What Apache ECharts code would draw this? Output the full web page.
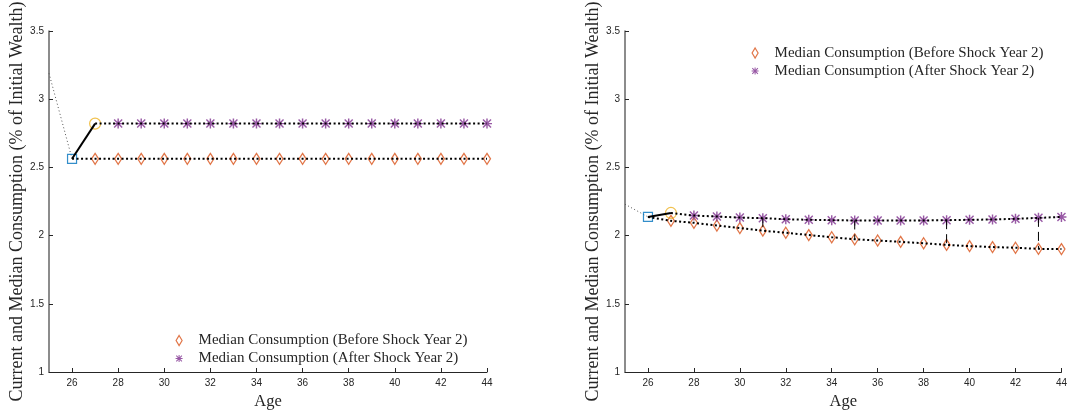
<!DOCTYPE html>
<html>
<head>
<meta charset="utf-8">
<script src="https://cdn.jsdelivr.net/npm/echarts@6.0.0/dist/echarts.min.js"></script>
<style>
  html, body { margin: 0; padding: 0; background: #fff; }
  #chart { width: 1070px; height: 415px; }
</style>
</head>
<body>
<div id="chart"></div>
<script>
// Ages on the horizontal axis
const currentAges = [25, 26, 27];
const medianAges = [27, 28, 29, 30, 31, 32, 33, 34, 35, 36, 37, 38, 39, 40, 41, 42, 43, 44];
const afterAges = [28, 29, 30, 31, 32, 33, 34, 35, 36, 37, 38, 39, 40, 41, 42, 43, 44];
const xTicks = [26, 28, 30, 32, 34, 36, 38, 40, 42, 44];

// Left panel: current consumption path and medians before / after the year-2 shock
const leftCurrent = [3.19, 2.563, 2.821];
const leftBefore = [2.563, 2.563, 2.563, 2.563, 2.563, 2.563, 2.563, 2.563, 2.563,
                    2.563, 2.563, 2.563, 2.563, 2.563, 2.563, 2.563, 2.563, 2.563];
const leftAfter = [2.821, 2.821, 2.821, 2.821, 2.821, 2.821, 2.821, 2.821, 2.821,
                   2.821, 2.821, 2.821, 2.821, 2.821, 2.821, 2.821, 2.821];
const leftGapAges = [];

// Right panel
const rightCurrent = [2.23, 2.137, 2.166];
const rightBefore = [2.108, 2.094, 2.074, 2.055, 2.036, 2.021, 2.004, 1.988, 1.973,
                     1.964, 1.954, 1.944, 1.932, 1.923, 1.916, 1.911, 1.903, 1.901];
const rightAfter = [2.147, 2.140, 2.132, 2.128, 2.120, 2.116, 2.113, 2.111, 2.111,
                    2.111, 2.111, 2.113, 2.116, 2.118, 2.123, 2.130, 2.137];
const rightGapAges = [31, 35, 39, 43];

const BEFORE = 'Median Consumption (Before Shock Year 2)';
const AFTER = 'Median Consumption (After Shock Year 2)';

const ORANGE = '#D95319';
const PURPLE = '#7E2F8E';
const BLUE = '#0072BD';
const YELLOW = '#EDB120';

// asterisk marker: four bars through the centre
const STAR = 'path://M8.7 1H11.3V19H8.7Z M1 8.7H19V11.3H1Z M1.9 3.7L3.7 1.9L18.1 16.3L16.3 18.1Z M16.3 1.9L18.1 3.7L3.7 18.1L1.9 16.3Z';
const DIAMOND = 'path://M3 0L6 5L3 10L0 5Z';

const dotted = { color: '#000', width: 2, type: [2, 2.5], cap: 'butt' };

function panelSeries(g, current, before, after, gapAges) {
  const ax = { xAxisIndex: g, yAxisIndex: g, silent: true, animation: false };
  const beforePts = medianAges.map((a, i) => [a, before[i]]);
  const afterPts = afterAges.map((a, i) => [a, after[i]]);
  const list = [
    // faint lead-in of current consumption
    Object.assign({ type: 'line', symbol: 'none', z: 2,
      data: [[currentAges[0], current[0]], [currentAges[1], current[1]]],
      lineStyle: { color: '#555', width: 1, type: [1, 2.5] } }, ax),
    // current consumption step
    Object.assign({ type: 'line', symbol: 'none', z: 4,
      data: [[currentAges[1], current[1]], [currentAges[2], current[2]]],
      lineStyle: { color: '#000', width: 2 } }, ax),
    // median paths
    Object.assign({ type: 'line', symbol: 'none', z: 4,
      data: [[currentAges[1], current[1]]].concat(beforePts), lineStyle: dotted }, ax),
    Object.assign({ type: 'line', symbol: 'none', z: 4,
      data: [[currentAges[2], current[2]]].concat(afterPts), lineStyle: dotted }, ax)
  ];
  gapAges.forEach(a => {
    list.push(Object.assign({ type: 'line', symbol: 'none', z: 4,
      data: [[a, after[afterAges.indexOf(a)]], [a, before[medianAges.indexOf(a)]]],
      lineStyle: { color: '#000', width: 1, type: [9, 5] } }, ax));
  });
  list.push(
    Object.assign({ type: 'scatter', name: BEFORE, data: beforePts, z: 3,
      symbol: 'diamond', symbolSize: [7, 11],
      itemStyle: { color: 'rgba(0,0,0,0)', borderColor: ORANGE, borderWidth: 1.3 } }, ax),
    Object.assign({ type: 'scatter', name: AFTER, data: afterPts, z: 3,
      symbol: STAR, symbolSize: 10,
      itemStyle: { color: PURPLE } }, ax),
    Object.assign({ type: 'scatter', data: [[currentAges[1], current[1]]], z: 3,
      symbol: 'rect', symbolSize: 9,
      itemStyle: { color: 'rgba(0,0,0,0)', borderColor: BLUE, borderWidth: 1.2 } }, ax),
    Object.assign({ type: 'scatter', data: [[currentAges[2], current[2]]], z: 3,
      symbol: 'circle', symbolSize: 11,
      itemStyle: { color: 'rgba(0,0,0,0)', borderColor: YELLOW, borderWidth: 1.2 } }, ax)
  );
  return list;
}

function xAxis(g) {
  return {
    type: 'value', gridIndex: g, min: 25, max: 44,
    name: 'Age', nameLocation: 'middle', nameGap: 21,
    nameTextStyle: { fontFamily: 'Liberation Serif', fontSize: 16.5, color: '#262626' },
    axisLine: { show: true, lineStyle: { color: '#262626', width: 1 } },
    axisTick: { show: true, inside: true, length: 4, customValues: xTicks,
      lineStyle: { color: '#262626' } },
    axisLabel: { customValues: xTicks, margin: 6, fontFamily: 'Liberation Sans',
      fontSize: 10, color: '#262626' },
    splitLine: { show: false }
  };
}

function yAxis(g) {
  return {
    type: 'value', gridIndex: g, min: 1, max: 3.5, interval: 0.5,
    name: 'Current and Median Consumption (% of Initial Wealth)',
    nameLocation: 'middle', nameGap: 23,
    nameTextStyle: { fontFamily: 'Liberation Serif', fontSize: 18, color: '#262626' },
    axisLine: { show: true, lineStyle: { color: '#666', width: 1.5 } },
    axisTick: { show: true, inside: true, length: 4, lineStyle: { color: '#262626' } },
    axisLabel: { margin: 5, fontFamily: 'Liberation Sans', fontSize: 10, color: '#262626' },
    splitLine: { show: false }
  };
}

function legend(left, top) {
  return {
    left: left, top: top, orient: 'vertical', selectedMode: false,
    itemWidth: 7, itemHeight: 10, itemGap: 3,
    textStyle: { fontFamily: 'Liberation Serif', fontSize: 15, color: '#262626',
      padding: [0, 0, 0, 11] },
    data: [
      { name: BEFORE, icon: DIAMOND,
        itemStyle: { color: 'rgba(0,0,0,0)', borderColor: ORANGE, borderWidth: 1.2 } },
      { name: AFTER, icon: STAR, itemStyle: { color: PURPLE, borderWidth: 0 } }
    ]
  };
}

const chart = echarts.init(document.getElementById('chart'), null, { renderer: 'canvas' });
chart.setOption({
  animation: false,
  backgroundColor: '#fff',
  grid: [
    { left: 49, top: 31, width: 438, height: 346 },
    { left: 625, top: 31, width: 438, height: 346 }
  ],
  xAxis: [xAxis(0), xAxis(1)],
  yAxis: [yAxis(0), yAxis(1)],
  legend: [legend(170.5, 328), legend(746.5, 40.5)],
  series: panelSeries(0, leftCurrent, leftBefore, leftAfter, leftGapAges)
    .concat(panelSeries(1, rightCurrent, rightBefore, rightAfter, rightGapAges))
});
</script>
</body>
</html>
